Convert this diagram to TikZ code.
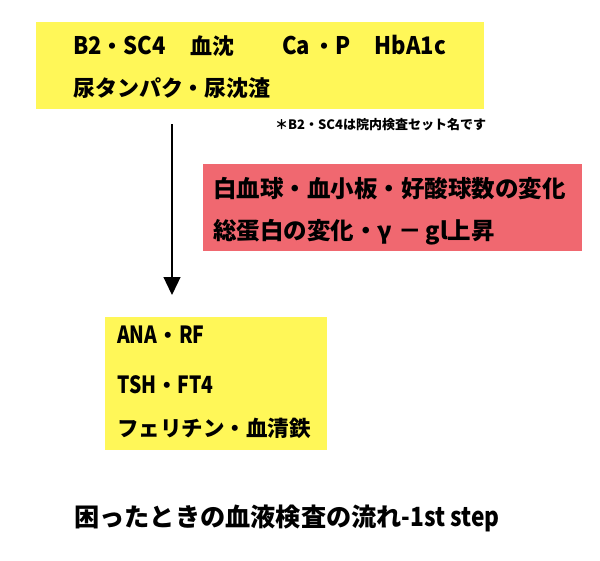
\documentclass[tikz,border=0pt]{standalone}
\usepackage{fontspec}
\usepackage{graphicx}
\setmainfont{Noto Sans CJK JP}
\usetikzlibrary{arrows.meta}
\definecolor{boxyellow}{RGB}{255,247,88}
\definecolor{boxred}{RGB}{240,104,112}
\newcommand\latn[1]{\scalebox{0.9}[1.1]{#1}}
\newcommand\latw[1]{\scalebox{1}[1.1]{#1}}
\tikzset{
  panel/.style={rectangle, inner sep=0pt, anchor=north west, draw=none},
  ybox/.style={panel, fill=boxyellow},
  rbox/.style={panel, fill=boxred},
  txt/.style={anchor=west, inner sep=0pt, font=\bfseries\fontsize{#1}{#1}\selectfont},
  flow/.style={line width=1.3pt, -{Triangle[length=18pt,width=17pt]}}
}
\begin{document}
\begin{tikzpicture}[x=1pt,y=-1pt]
\useasboundingbox[fill=white] (0,0) rectangle (600,560);
\node[ybox, minimum width=448pt, minimum height=87pt] (box1) at (36,22) {};
\node[rbox, minimum width=379pt, minimum height=87pt] (box2) at (203,164) {};
\node[ybox, minimum width=222pt, minimum height=133pt] (box3) at (105,317) {};
\node[txt=22] (t1) at (73,46) {\latw{B2}・\latw{SC4}\hspace{24pt}血沈\hspace{48pt}\latw{Ca}\,・\latw{P}\hspace{24pt}\latw{HbA1c}};
\node[txt=22] (t2) at (73,88) {尿タンパク・尿沈渣};
\node[txt=13] (note) at (275,125) {＊B2・SC4は院内検査セット名です};
\node[txt=23.5] (r1) at (213,189) {白血球・血小板・好酸球数の変化};
\node[txt=23.5] (r2) at (213,232) {総蛋白の変化・γ\hspace{6pt}－\hspace{4pt}gl上昇};
\node[txt=21.5] (y1) at (117,335) {\latn{ANA}・\latn{RF}};
\node[txt=21.5] (y2) at (117,385) {\latn{TSH}・\latn{FT4}};
\node[txt=21.5] (y3) at (117,428) {フェリチン・血清鉄};
\node[txt=25.2] (title) at (74,518) {困ったときの血液検査の流れ\scalebox{0.9}[1.05]{-1st step}};
\coordinate (a1) at (172,124);
\coordinate (a2) at (172,295);
\draw[flow] (a1) -- (a2);
\end{tikzpicture}
\end{document}
